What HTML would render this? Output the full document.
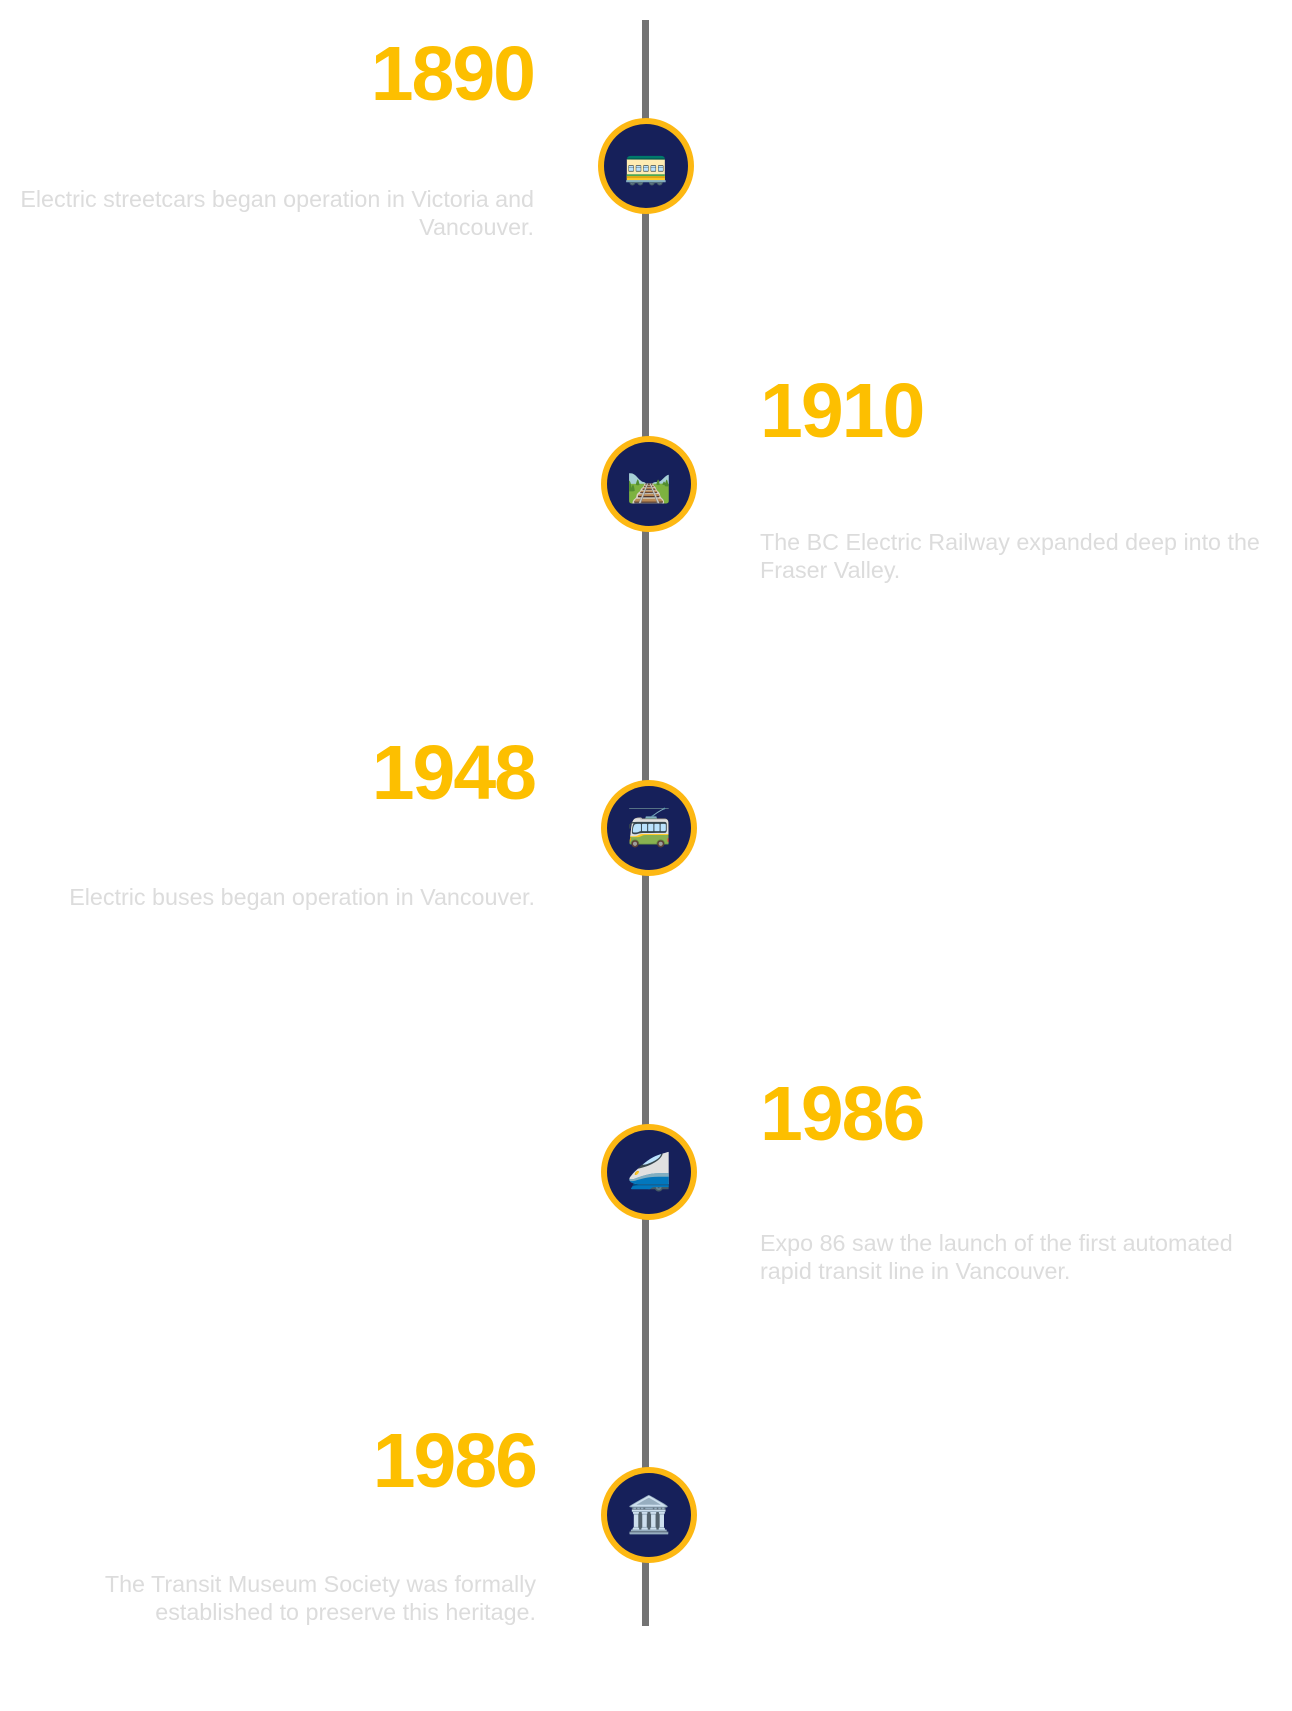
<!DOCTYPE html>
<html><head><meta charset="utf-8"><style>
html,body{margin:0;padding:0;background:#fff;}
body{width:1292px;height:1711px;position:relative;overflow:hidden;font-family:"Liberation Sans",sans-serif;}
.line{position:absolute;left:642px;top:20px;width:7px;height:1606px;background:#737373;}
.c{position:absolute;width:84px;height:84px;border-radius:50%;background:#16205a;border:6px solid #fdb813;display:flex;align-items:center;justify-content:center;font-size:36px;line-height:1;font-family:"Noto Color Emoji","DejaVu Sans",sans-serif;}
.y{position:absolute;font-weight:bold;font-size:77px;line-height:77px;color:#fdbf00;white-space:nowrap;letter-spacing:-2px;}
.yl{text-align:right;}
.d{position:absolute;font-size:23.3px;line-height:28px;color:#dcdcdc;white-space:nowrap;}
.dl{text-align:right;}
</style></head><body>
<div class="line"></div>

<div class="c" style="left:598px;top:118px">🚃</div>
<div class="c" style="left:601px;top:436px">🛤️</div>
<div class="c" style="left:601px;top:780px">🚎</div>
<div class="c" style="left:601px;top:1124px">🚄</div>
<div class="c" style="left:601px;top:1467px">🏛️</div>

<div class="y yl" style="right:758px;top:36px">1890</div>
<div class="d dl" style="right:758px;top:185px">Electric streetcars began operation in Victoria and<br>Vancouver.</div>

<div class="y" style="left:760px;top:373px">1910</div>
<div class="d" style="left:760px;top:528px">The BC Electric Railway expanded deep into the<br>Fraser Valley.</div>

<div class="y yl" style="right:757px;top:735px">1948</div>
<div class="d dl" style="right:757px;top:883px">Electric buses began operation in Vancouver.</div>

<div class="y" style="left:760px;top:1076px">1986</div>
<div class="d" style="left:760px;top:1229px">Expo 86 saw the launch of the first automated<br>rapid transit line in Vancouver.</div>

<div class="y yl" style="right:756px;top:1423px">1986</div>
<div class="d dl" style="right:756px;top:1570px">The Transit Museum Society was formally<br>established to preserve this heritage.</div>
</body></html>
